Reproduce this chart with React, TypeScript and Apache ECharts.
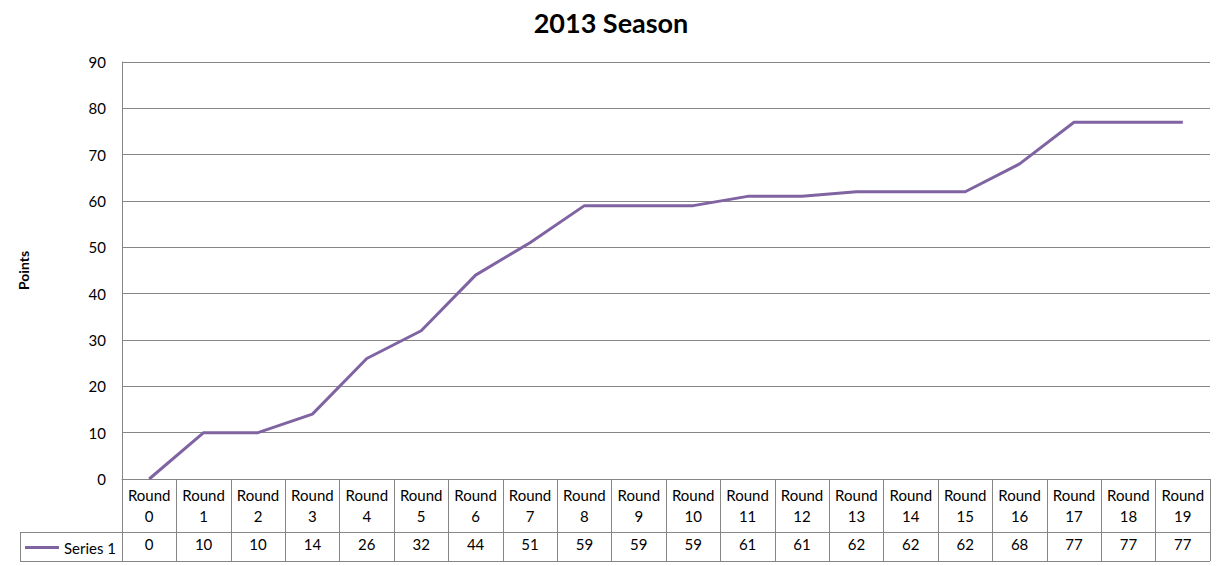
import React, { useEffect, useRef } from "react";
import * as echarts from "echarts";

const categories = ["Round 0","Round 1","Round 2","Round 3","Round 4","Round 5","Round 6","Round 7","Round 8","Round 9","Round 10","Round 11","Round 12","Round 13","Round 14","Round 15","Round 16","Round 17","Round 18","Round 19"];
const series1 = [0, 10, 10, 14, 26, 32, 44, 51, 59, 59, 59, 61, 61, 62, 62, 62, 68, 77, 77, 77];
const seriesName = "Series 1";
const titleText = "2013 Season";
const yAxisName = "Points";

const FONT = "Lato, 'Open Sans', sans-serif";
const GRID = "#868686";
const PURPLE = "#8064A2";
const FS = 15;

export default function App() {
  const ref = useRef<HTMLDivElement>(null);
  useEffect(() => {
    if (!ref.current) return;
    const chart = echarts.init(ref.current, undefined, { renderer: "svg" });
    chart.setOption({
      animation: false,
      backgroundColor: "#ffffff",
      title: {
        text: titleText,
        left: "center",
        top: 4,
        textStyle: { fontFamily: FONT, fontWeight: "bold", fontSize: 27, color: "#000" },
      },
      legend: {
        left: 20,
        top: 535,
        itemWidth: 34,
        itemHeight: 3,
        itemGap: 4,
        data: [{ name: seriesName, icon: "rect" }],
        textStyle: { fontFamily: FONT, fontSize: FS, color: "#000" },
      },
      grid: { left: 122, right: 12, top: 62, bottom: 87, containLabel: false },
      xAxis: [
        {
          type: "category",
          data: categories,
          boundaryGap: true,
          position: "bottom",
          axisLine: { show: true, lineStyle: { color: GRID } },
          axisTick: { show: true, length: 82, interval: 0, lineStyle: { color: GRID } },
          axisLabel: {
            interval: 0,
            margin: 5,
            fontFamily: FONT,
            fontSize: FS,
            lineHeight: 21,
            color: "#000",
            formatter: (v: string) => v.replace(" ", "\n"),
          },
        },
        {
          type: "category",
          data: series1.map(String),
          boundaryGap: true,
          position: "bottom",
          offset: 53,
          axisLine: { show: true, lineStyle: { color: GRID } },
          axisTick: { show: false },
          axisLabel: { interval: 0, margin: 4, fontFamily: FONT, fontSize: FS, color: "#000" },
        },
      ],
      yAxis: {
        type: "value",
        min: 0,
        max: 90,
        interval: 10,
        name: yAxisName,
        nameLocation: "middle",
        nameGap: 92,
        nameTextStyle: { fontFamily: FONT, fontWeight: "bold", fontSize: 14, color: "#000" },
        axisLine: { show: true, lineStyle: { color: GRID } },
        axisTick: { show: false },
        splitLine: { show: true, lineStyle: { color: GRID, width: 1 } },
        axisLabel: { margin: 16, fontFamily: FONT, fontSize: FS, color: "#000" },
      },
      series: [
        {
          name: seriesName,
          type: "line",
          data: series1,
          xAxisIndex: 0,
          symbol: "none",
          lineStyle: { color: PURPLE, width: 3 },
          itemStyle: { color: PURPLE },
        },
      ],
      graphic: [
        { type: "line", shape: { x1: 20, y1: 532.5, x2: 122, y2: 532.5 }, style: { stroke: GRID, lineWidth: 1 } },
        { type: "line", shape: { x1: 20, y1: 561.5, x2: 1210, y2: 561.5 }, style: { stroke: GRID, lineWidth: 1 } },
        { type: "line", shape: { x1: 20.5, y1: 532, x2: 20.5, y2: 562 }, style: { stroke: GRID, lineWidth: 1 } },
      ],
    });
    return () => chart.dispose();
  }, []);
  return (
    <div
      ref={ref}
      style={{ position: "fixed", left: 0, top: 0, width: 1222, height: 566, background: "#fff" }}
    />
  );
}
